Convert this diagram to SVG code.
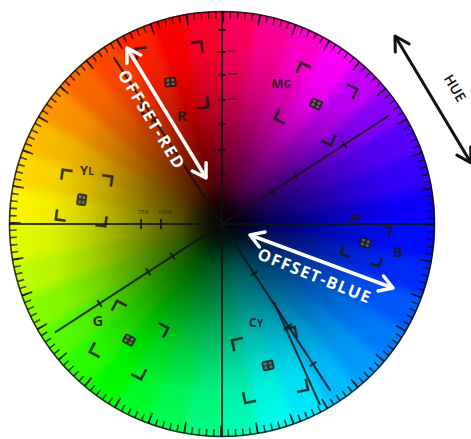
<svg xmlns="http://www.w3.org/2000/svg" xmlns:xlink="http://www.w3.org/1999/xlink" width="471" height="439" viewBox="0 0 471 439">
<style>
.ln{stroke:#111;stroke-opacity:.8;stroke-width:2;fill:none}
.tk{stroke:#111;stroke-opacity:.8;stroke-width:2}
.br{fill:none;stroke:#1a1a1a;stroke-opacity:.85;stroke-width:2.6;stroke-linejoin:miter}
.lbl{font-family:"Open Sans","DejaVu Sans",sans-serif;font-weight:700;fill:#1a1a1a;fill-opacity:.85;text-anchor:middle}
.wt{font-family:"Open Sans","DejaVu Sans",sans-serif;font-weight:700;fill:#fff;font-size:16.5px;text-anchor:middle}
.bt{font-family:"Open Sans","DejaVu Sans",sans-serif;font-weight:600;fill:#111;font-size:14px;text-anchor:middle}
.sm{font-family:"Open Sans","DejaVu Sans",sans-serif;font-size:5.5px;fill:#111;fill-opacity:.8;text-anchor:middle}
.aw{stroke:#fff;stroke-width:3.5;fill:none}
.ab{stroke:#111;stroke-width:3;fill:none}
</style>
<defs>
<clipPath id="cc"><circle cx="222" cy="224" r="213"/></clipPath>
<filter id="bl" x="-10%" y="-10%" width="120%" height="120%"><feGaussianBlur stdDeviation="4"/></filter>
<radialGradient id="dk" cx="222" cy="224" r="213" gradientUnits="userSpaceOnUse">
<stop offset="0" stop-color="#000" stop-opacity="1"/>
<stop offset="0.1" stop-color="#000" stop-opacity="0.88"/>
<stop offset="0.2" stop-color="#000" stop-opacity="0.68"/>
<stop offset="0.35" stop-color="#000" stop-opacity="0.5"/>
<stop offset="0.5" stop-color="#000" stop-opacity="0.32"/>
<stop offset="0.65" stop-color="#000" stop-opacity="0.16"/>
<stop offset="0.8" stop-color="#000" stop-opacity="0.05"/>
<stop offset="1" stop-color="#000" stop-opacity="0"/>
</radialGradient>
<path id="w" d="M0,0 L250,0 L245.4,-47.7 Z"/>
<g id="bb">
<rect x="-6" y="-5" width="12" height="10" rx="2" fill="#1a1a1a" fill-opacity=".85"/>
<rect x="-4" y="-3.2" width="3" height="2.6" fill="#fff" fill-opacity=".3"/>
<rect x="1" y="-3.2" width="3" height="2.6" fill="#fff" fill-opacity=".3"/>
<rect x="-4" y="0.6" width="3" height="2.6" fill="#fff" fill-opacity=".3"/>
<rect x="1" y="0.6" width="3" height="2.6" fill="#fff" fill-opacity=".3"/>
</g>
<marker id="mw" markerUnits="userSpaceOnUse" viewBox="-16 -10 18 20" refX="0" refY="0" markerWidth="18" markerHeight="20" orient="auto-start-reverse">
<path d="M-13,-8 L0,0 L-13,8" fill="none" stroke="#fff" stroke-width="3.5" stroke-linecap="round" stroke-linejoin="round"/>
</marker>
<marker id="mb" markerUnits="userSpaceOnUse" viewBox="-17 -10 19 20" refX="0" refY="0" markerWidth="19" markerHeight="20" orient="auto-start-reverse">
<path d="M-14,-8 L0,0 L-14,8" fill="none" stroke="#111" stroke-width="3" stroke-linecap="round" stroke-linejoin="round"/>
</marker>
</defs>

<g id="wheel">
<g clip-path="url(#cc)">
<g filter="url(#bl)">
<g transform="translate(222,224)">
<use href="#w" fill="#1100ff"/>
<use href="#w" transform="rotate(-10)" fill="#3500ff"/>
<use href="#w" transform="rotate(-20)" fill="#5800ff"/>
<use href="#w" transform="rotate(-30)" fill="#8800ff"/>
<use href="#w" transform="rotate(-40)" fill="#c400ff"/>
<use href="#w" transform="rotate(-50)" fill="#ff00ff"/>
<use href="#w" transform="rotate(-60)" fill="#ff00ca"/>
<use href="#w" transform="rotate(-70)" fill="#ff0095"/>
<use href="#w" transform="rotate(-80)" fill="#ff0060"/>
<use href="#w" transform="rotate(-90)" fill="#ff002a"/>
<use href="#w" transform="rotate(-100)" fill="#ff0004"/>
<use href="#w" transform="rotate(-110)" fill="#ff2200"/>
<use href="#w" transform="rotate(-120)" fill="#ff4600"/>
<use href="#w" transform="rotate(-130)" fill="#ff6a00"/>
<use href="#w" transform="rotate(-140)" fill="#ff9500"/>
<use href="#w" transform="rotate(-150)" fill="#ffbf00"/>
<use href="#w" transform="rotate(-160)" fill="#ffdb00"/>
<use href="#w" transform="rotate(-170)" fill="#fff700"/>
<use href="#w" transform="rotate(-180)" fill="#e3ff00"/>
<use href="#w" transform="rotate(-190)" fill="#bfff00"/>
<use href="#w" transform="rotate(-200)" fill="#8aff00"/>
<use href="#w" transform="rotate(-210)" fill="#55ff00"/>
<use href="#w" transform="rotate(-220)" fill="#2aff00"/>
<use href="#w" transform="rotate(-230)" fill="#00ff00"/>
<use href="#w" transform="rotate(-240)" fill="#00ff2a"/>
<use href="#w" transform="rotate(-250)" fill="#00ff55"/>
<use href="#w" transform="rotate(-260)" fill="#00ff80"/>
<use href="#w" transform="rotate(-270)" fill="#00ffb5"/>
<use href="#w" transform="rotate(-280)" fill="#00ffea"/>
<use href="#w" transform="rotate(-290)" fill="#00eaff"/>
<use href="#w" transform="rotate(-300)" fill="#00bfff"/>
<use href="#w" transform="rotate(-310)" fill="#009dff"/>
<use href="#w" transform="rotate(-320)" fill="#007bff"/>
<use href="#w" transform="rotate(-330)" fill="#0058ff"/>
<use href="#w" transform="rotate(-340)" fill="#002cff"/>
<use href="#w" transform="rotate(-350)" fill="#000eff"/>
</g>
</g>
<circle cx="222" cy="224" r="213" fill="url(#dk)"/>
</g>
<circle cx="222" cy="224" r="209" fill="none" stroke="#111" stroke-opacity=".75" stroke-width="7" stroke-dasharray="1.6 5.6955"/>
<circle cx="222" cy="224" r="207" fill="none" stroke="#111" stroke-opacity=".75" stroke-width="11" stroke-dasharray="1.8 34.328"/>
<circle cx="222" cy="224" r="212.5" fill="none" stroke="#111" stroke-opacity=".85" stroke-width="1.6"/>
</g>

<g id="graticule">
<line class="ln" x1="9" y1="224" x2="435" y2="224"/>
<line class="ln" x1="222" y1="11" x2="222" y2="437"/>
<line class="ln" x1="113.6" y1="57.1" x2="330.4" y2="390.9"/>
<line class="ln" x1="55.1" y1="332.4" x2="388.9" y2="115.6"/>
<line class="ln" x1="274" y1="302" x2="320" y2="405" stroke-width="1.4"/>
<g transform="translate(222,224) rotate(-33)">
<line class="tk" x1="59" y1="-4" x2="59" y2="4"/>
<line class="tk" x1="88" y1="-4" x2="88" y2="4"/>
<line class="tk" x1="146" y1="-4" x2="146" y2="4"/>
<line class="tk" x1="-59" y1="-4" x2="-59" y2="4"/>
<line class="tk" x1="-88" y1="-4" x2="-88" y2="4"/>
<line class="tk" x1="-146" y1="-4" x2="-146" y2="4"/>
</g>
<g transform="translate(222,224) rotate(-123)">
<line class="tk" x1="124" y1="-4" x2="124" y2="4"/>
<line class="tk" x1="-59" y1="-4" x2="-59" y2="4"/>
<line class="tk" x1="-122" y1="-4" x2="-122" y2="4"/>
<line class="tk" x1="-167" y1="-4" x2="-167" y2="4"/>
</g>
<line class="tk" x1="218" y1="30" x2="226" y2="30"/>
<line class="tk" x1="218" y1="52" x2="226" y2="52"/>
<line class="tk" x1="218" y1="75" x2="226" y2="75"/>
<line class="tk" x1="218" y1="100" x2="226" y2="100"/>
<line class="tk" x1="218" y1="124" x2="226" y2="124"/>
<line class="tk" x1="218" y1="150" x2="226" y2="150"/>
<line class="tk" x1="218" y1="175" x2="226" y2="175"/>
<line x1="228" y1="51" x2="236" y2="51" stroke="#111" stroke-opacity=".6" stroke-width="1.5"/>
<line x1="228" y1="74" x2="237" y2="74" stroke="#111" stroke-opacity=".6" stroke-width="1.5"/>
<line x1="228" y1="99" x2="236" y2="99" stroke="#111" stroke-opacity=".6" stroke-width="1.5"/>
<line class="tk" x1="141" y1="219" x2="141" y2="229"/>
<line class="tk" x1="161" y1="219" x2="161" y2="229"/>
<text class="sm" x="143.5" y="214">75%</text>
<text class="sm" x="165" y="214">100%</text>
</g>

<g id="target-R" transform="translate(172,78) rotate(-6)">
<path class="br" d="M-33,-22 L-33,-33 L-22,-33 M22,-33 L33,-33 L33,-22 M33,22 L33,33 L22,33 M-22,33 L-33,33 L-33,22"/>
<use href="#bb" transform="translate(-2,4)"/>
</g>
<text class="lbl" x="182" y="121" font-size="15">R</text>

<g id="target-MG" transform="translate(316,104) rotate(25)">
<path class="br" d="M-31,-20 L-31,-31 L-20,-31 M20,-31 L31,-31 L31,-20 M31,20 L31,31 L20,31 M-20,31 L-31,31 L-31,20"/>
<use href="#bb"/>
</g>
<text class="lbl" x="281" y="88" font-size="13">M<tspan font-size="10">G</tspan></text>

<g id="target-YL" transform="translate(84,198) rotate(8)">
<path class="br" d="M-25,-15 L-25,-25 L-15,-25 M15,-25 L25,-25 L25,-15 M25,15 L25,25 L15,25 M-15,25 L-25,25 L-25,15"/>
<use href="#bb" transform="translate(-2,2) rotate(90)"/>
</g>
<text class="lbl" x="87" y="175" font-size="13">Y<tspan font-size="10">L</tspan></text>

<g id="target-G" transform="translate(129,340) rotate(28)">
<path class="br" d="M-29,-18 L-29,-29 L-18,-29 M18,-29 L29,-29 L29,-18 M29,18 L29,29 L18,29 M-18,29 L-29,29 L-29,18"/>
<use href="#bb"/>
</g>
<text class="lbl" x="98" y="326" font-size="15">G</text>

<g id="target-CY" transform="translate(270,365) rotate(-12)">
<path class="br" d="M-32,-21 L-32,-32 L-21,-32 M21,-32 L32,-32 L32,-21 M32,21 L32,32 L21,32 M-21,32 L-32,32 L-32,21"/>
<use href="#bb" transform="translate(-2,0)"/>
</g>
<text class="lbl" x="256" y="327" font-size="13">C<tspan font-size="10">Y</tspan></text>

<g id="target-B" transform="translate(366,241) rotate(18)">
<path class="br" d="M-20,-11 L-20,-20 L-11,-20 M11,-20 L20,-20 L20,-11 M20,11 L20,20 L11,20 M-11,20 L-20,20 L-20,11"/>
<use href="#bb" transform="translate(0,2)"/>
</g>
<text class="lbl" x="398" y="257" font-size="14">B</text>

<g id="connectors">
<line class="aw" x1="127" y1="48" x2="206" y2="178" marker-start="url(#mw)" marker-end="url(#mw)"/>
<line class="aw" x1="250" y1="235" x2="393" y2="288" marker-start="url(#mw)" marker-end="url(#mw)"/>
<line class="ab" x1="395" y1="36" x2="471" y2="163" marker-start="url(#mb)" marker-end="url(#mb)"/>
</g>

<g id="labels">
<text class="wt" transform="translate(146.3,122.2) rotate(58.7)" textLength="112" lengthAdjust="spacing">OFFSET-RED</text>
<text class="wt" transform="translate(312,281) rotate(22)" textLength="120" lengthAdjust="spacing">OFFSET-BLUE</text>
<text class="bt" transform="translate(450.7,90.6) rotate(59)">HUE</text>
</g>
</svg>
